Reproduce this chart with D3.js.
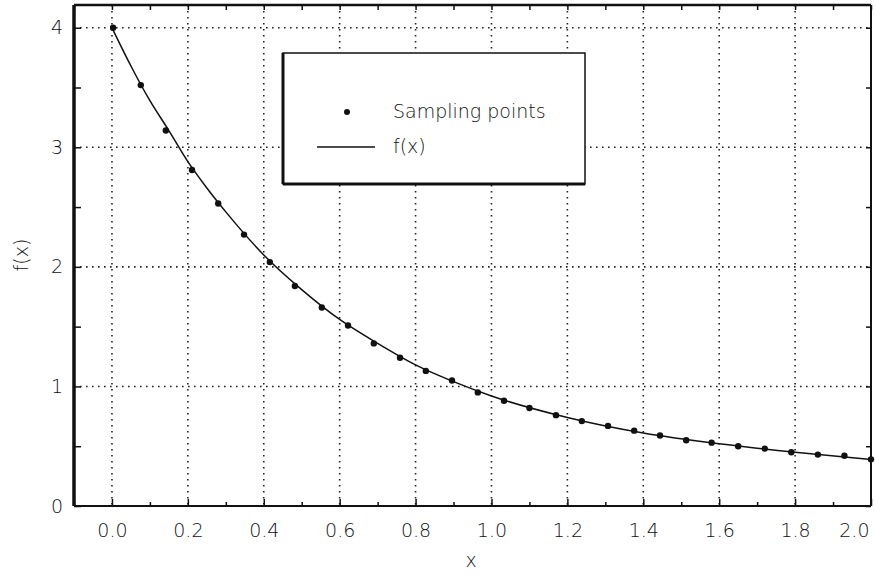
<!DOCTYPE html>
<html>
<head>
<meta charset="utf-8">
<script src="https://cdn.jsdelivr.net/npm/d3@7"></script>
<style>
  body { margin: 0; background: #fff; }
  text { font-family: 'DejaVu Sans', sans-serif; font-weight: 200; fill: #111; }
</style>
</head>
<body>
<div id="chart"></div>
<script>
const sampleX = [0.003, 0.076, 0.142, 0.211, 0.28, 0.348, 0.416, 0.482, 0.553, 0.622,
  0.69, 0.759, 0.827, 0.896, 0.964, 1.033, 1.1, 1.17, 1.238, 1.307,
  1.376, 1.444, 1.513, 1.58, 1.65, 1.72, 1.79, 1.86, 1.93, 2.0]
const sampleY = [4.0, 3.52, 3.14, 2.81, 2.53, 2.27, 2.04, 1.84, 1.66, 1.51,
  1.36, 1.24, 1.13, 1.05, 0.95, 0.88, 0.82, 0.76, 0.71, 0.67,
  0.63, 0.59, 0.55, 0.53, 0.5, 0.48, 0.45, 0.43, 0.42, 0.39]

// the solid curve f(x)
const curveX = [0, 0.05, 0.1, 0.15, 0.2, 0.25, 0.3, 0.4, 0.5, 0.6, 0.7, 0.8, 0.9, 1.0, 1.2, 1.4, 1.6, 1.8, 2.0]
const curveY = [4.0, 3.68, 3.39, 3.14, 2.88, 2.66, 2.46, 2.1, 1.81, 1.56, 1.36, 1.18, 1.04, 0.92, 0.74, 0.61, 0.52, 0.45, 0.39]

const xTicks = [0, 0.2, 0.4, 0.6, 0.8, 1.0, 1.2, 1.4, 1.6, 1.8, 2.0]
const xMinor = [-0.1, 0.1, 0.3, 0.5, 0.7, 0.9, 1.1, 1.3, 1.5, 1.7, 1.9]
const yTicks = [0, 1, 2, 3, 4]
const yMinor = [0.5, 1.5, 2.5, 3.5]
const legendLabels = ['Sampling points', 'f(x)']

const margin = { top: 5, left: 74, right: 4, bottom: 70 }
const width = 875 - margin.left - margin.right
const height = 576 - margin.top - margin.bottom

const svg = d3
  .select('#chart')
  .append('svg')
  .attr('width', 875)
  .attr('height', 576)

const g = svg
  .append('g')
  .attr('transform', `translate(${margin.left},${margin.top})`)

const xScale = d3.scaleLinear().domain([-0.1, 2.0]).range([0, width])
const yScale = d3.scaleLinear().domain([0, 4.19]).range([height, 0])

// dotted grid
g.selectAll('.vgrid')
  .data(xTicks.filter(d => d < 2))
  .enter()
  .append('line')
  .attr('x1', d => xScale(d))
  .attr('x2', d => xScale(d))
  .attr('y1', 0)
  .attr('y2', height)
  .attr('stroke', '#222')
  .attr('stroke-width', 1.6)
  .attr('stroke-dasharray', '1.6,4.4')

g.selectAll('.hgrid')
  .data(yTicks.filter(d => d > 0))
  .enter()
  .append('line')
  .attr('x1', 0)
  .attr('x2', width)
  .attr('y1', d => yScale(d))
  .attr('y2', d => yScale(d))
  .attr('stroke', '#222')
  .attr('stroke-width', 1.6)
  .attr('stroke-dasharray', '1.6,4.4')

// axes with inward ticks
const axisStyle = sel => {
  sel.select('.domain').remove()
  sel.selectAll('line').attr('stroke', '#111').attr('stroke-width', 1.5)
  sel.selectAll('text').attr('font-size', 19)
}

const xAxisG = g.append('g')
  .attr('transform', `translate(0,${height})`)
  .call(d3.axisBottom(xScale).tickValues(xTicks).tickSize(-7).tickPadding(18).tickFormat(d3.format('.1f')))
  .call(axisStyle)
// last label sits inside the right edge, as in the original
xAxisG.selectAll('text').filter(d => d === 2).attr('text-anchor', 'end').attr('dx', -2)

g.append('g')
  .attr('transform', `translate(0,${height})`)
  .call(d3.axisBottom(xScale).tickValues(xMinor).tickSize(-4).tickFormat(''))
  .call(axisStyle)
g.append('g')
  .call(d3.axisTop(xScale).tickValues(xTicks.concat(xMinor)).tickSize(-5).tickFormat(''))
  .call(axisStyle)

g.append('g')
  .call(d3.axisLeft(yScale).tickValues(yTicks).tickSize(-7).tickPadding(11).tickFormat(d3.format('d')))
  .call(axisStyle)
g.append('g')
  .call(d3.axisLeft(yScale).tickValues(yMinor).tickSize(-7).tickFormat(''))
  .call(axisStyle)
g.append('g')
  .attr('transform', `translate(${width},0)`)
  .call(d3.axisRight(yScale).tickValues(yTicks.concat(yMinor)).tickSize(-5).tickFormat(''))
  .call(axisStyle)

// frame
g.append('line').attr('x1', 0).attr('x2', 0).attr('y1', 0).attr('y2', height)
  .attr('stroke', '#111').attr('stroke-width', 3.5)
g.append('line').attr('x1', 0).attr('x2', width).attr('y1', 0).attr('y2', 0)
  .attr('stroke', '#111').attr('stroke-width', 2.5)
g.append('line').attr('x1', 0).attr('x2', width).attr('y1', height).attr('y2', height)
  .attr('stroke', '#111').attr('stroke-width', 2)
g.append('line').attr('x1', width).attr('x2', width).attr('y1', 0).attr('y2', height)
  .attr('stroke', '#111').attr('stroke-width', 2)

// curve
const curvePoints = curveX.map((x, i) => ({ x: x, y: curveY[i] }))
const line = d3
  .line()
  .x(d => xScale(d.x))
  .y(d => yScale(d.y))
  .curve(d3.curveMonotoneX)

g.append('path')
  .datum(curvePoints)
  .attr('d', line)
  .attr('fill', 'none')
  .attr('stroke', '#111')
  .attr('stroke-width', 1.5)

// sampling points
const samples = sampleX.map((x, i) => ({ x: x, y: sampleY[i] }))
g.selectAll('.dot')
  .data(samples)
  .enter()
  .append('circle')
  .attr('cx', d => xScale(d.x))
  .attr('cy', d => yScale(d.y))
  .attr('r', 3.2)
  .attr('fill', '#111')

// axis titles
svg.append('text')
  .text('x')
  .attr('x', 471)
  .attr('y', 561)
  .attr('font-size', 19)
  .attr('text-anchor', 'middle')
  .attr('dominant-baseline', 'middle')

svg.append('text')
  .text('f(x)')
  .attr('transform', 'translate(22,255) rotate(-90)')
  .attr('font-size', 19)
  .attr('text-anchor', 'middle')
  .attr('dominant-baseline', 'middle')

// legend
const legend = svg.append('g').attr('transform', 'translate(283,53)')
legend.append('rect')
  .attr('width', 302)
  .attr('height', 131)
  .attr('fill', '#fff')
  .attr('stroke', '#111')
  .attr('stroke-width', 1.5)
legend.append('line').attr('x1', 0).attr('x2', 0).attr('y1', 0).attr('y2', 131)
  .attr('stroke', '#111').attr('stroke-width', 3)
legend.append('line').attr('x1', 0).attr('x2', 302).attr('y1', 131).attr('y2', 131)
  .attr('stroke', '#111').attr('stroke-width', 3)

legend.append('circle').attr('cx', 64).attr('cy', 59).attr('r', 3).attr('fill', '#111')
legend.append('line').attr('x1', 34).attr('x2', 92).attr('y1', 94).attr('y2', 94)
  .attr('stroke', '#111').attr('stroke-width', 1.5)

legend.selectAll('.legend-label')
  .data(legendLabels)
  .enter()
  .append('text')
  .text(d => d)
  .attr('x', 110)
  .attr('y', (d, i) => 59 + i * 35)
  .attr('font-size', 19)
  .attr('dominant-baseline', 'middle')
</script>
</body>
</html>
